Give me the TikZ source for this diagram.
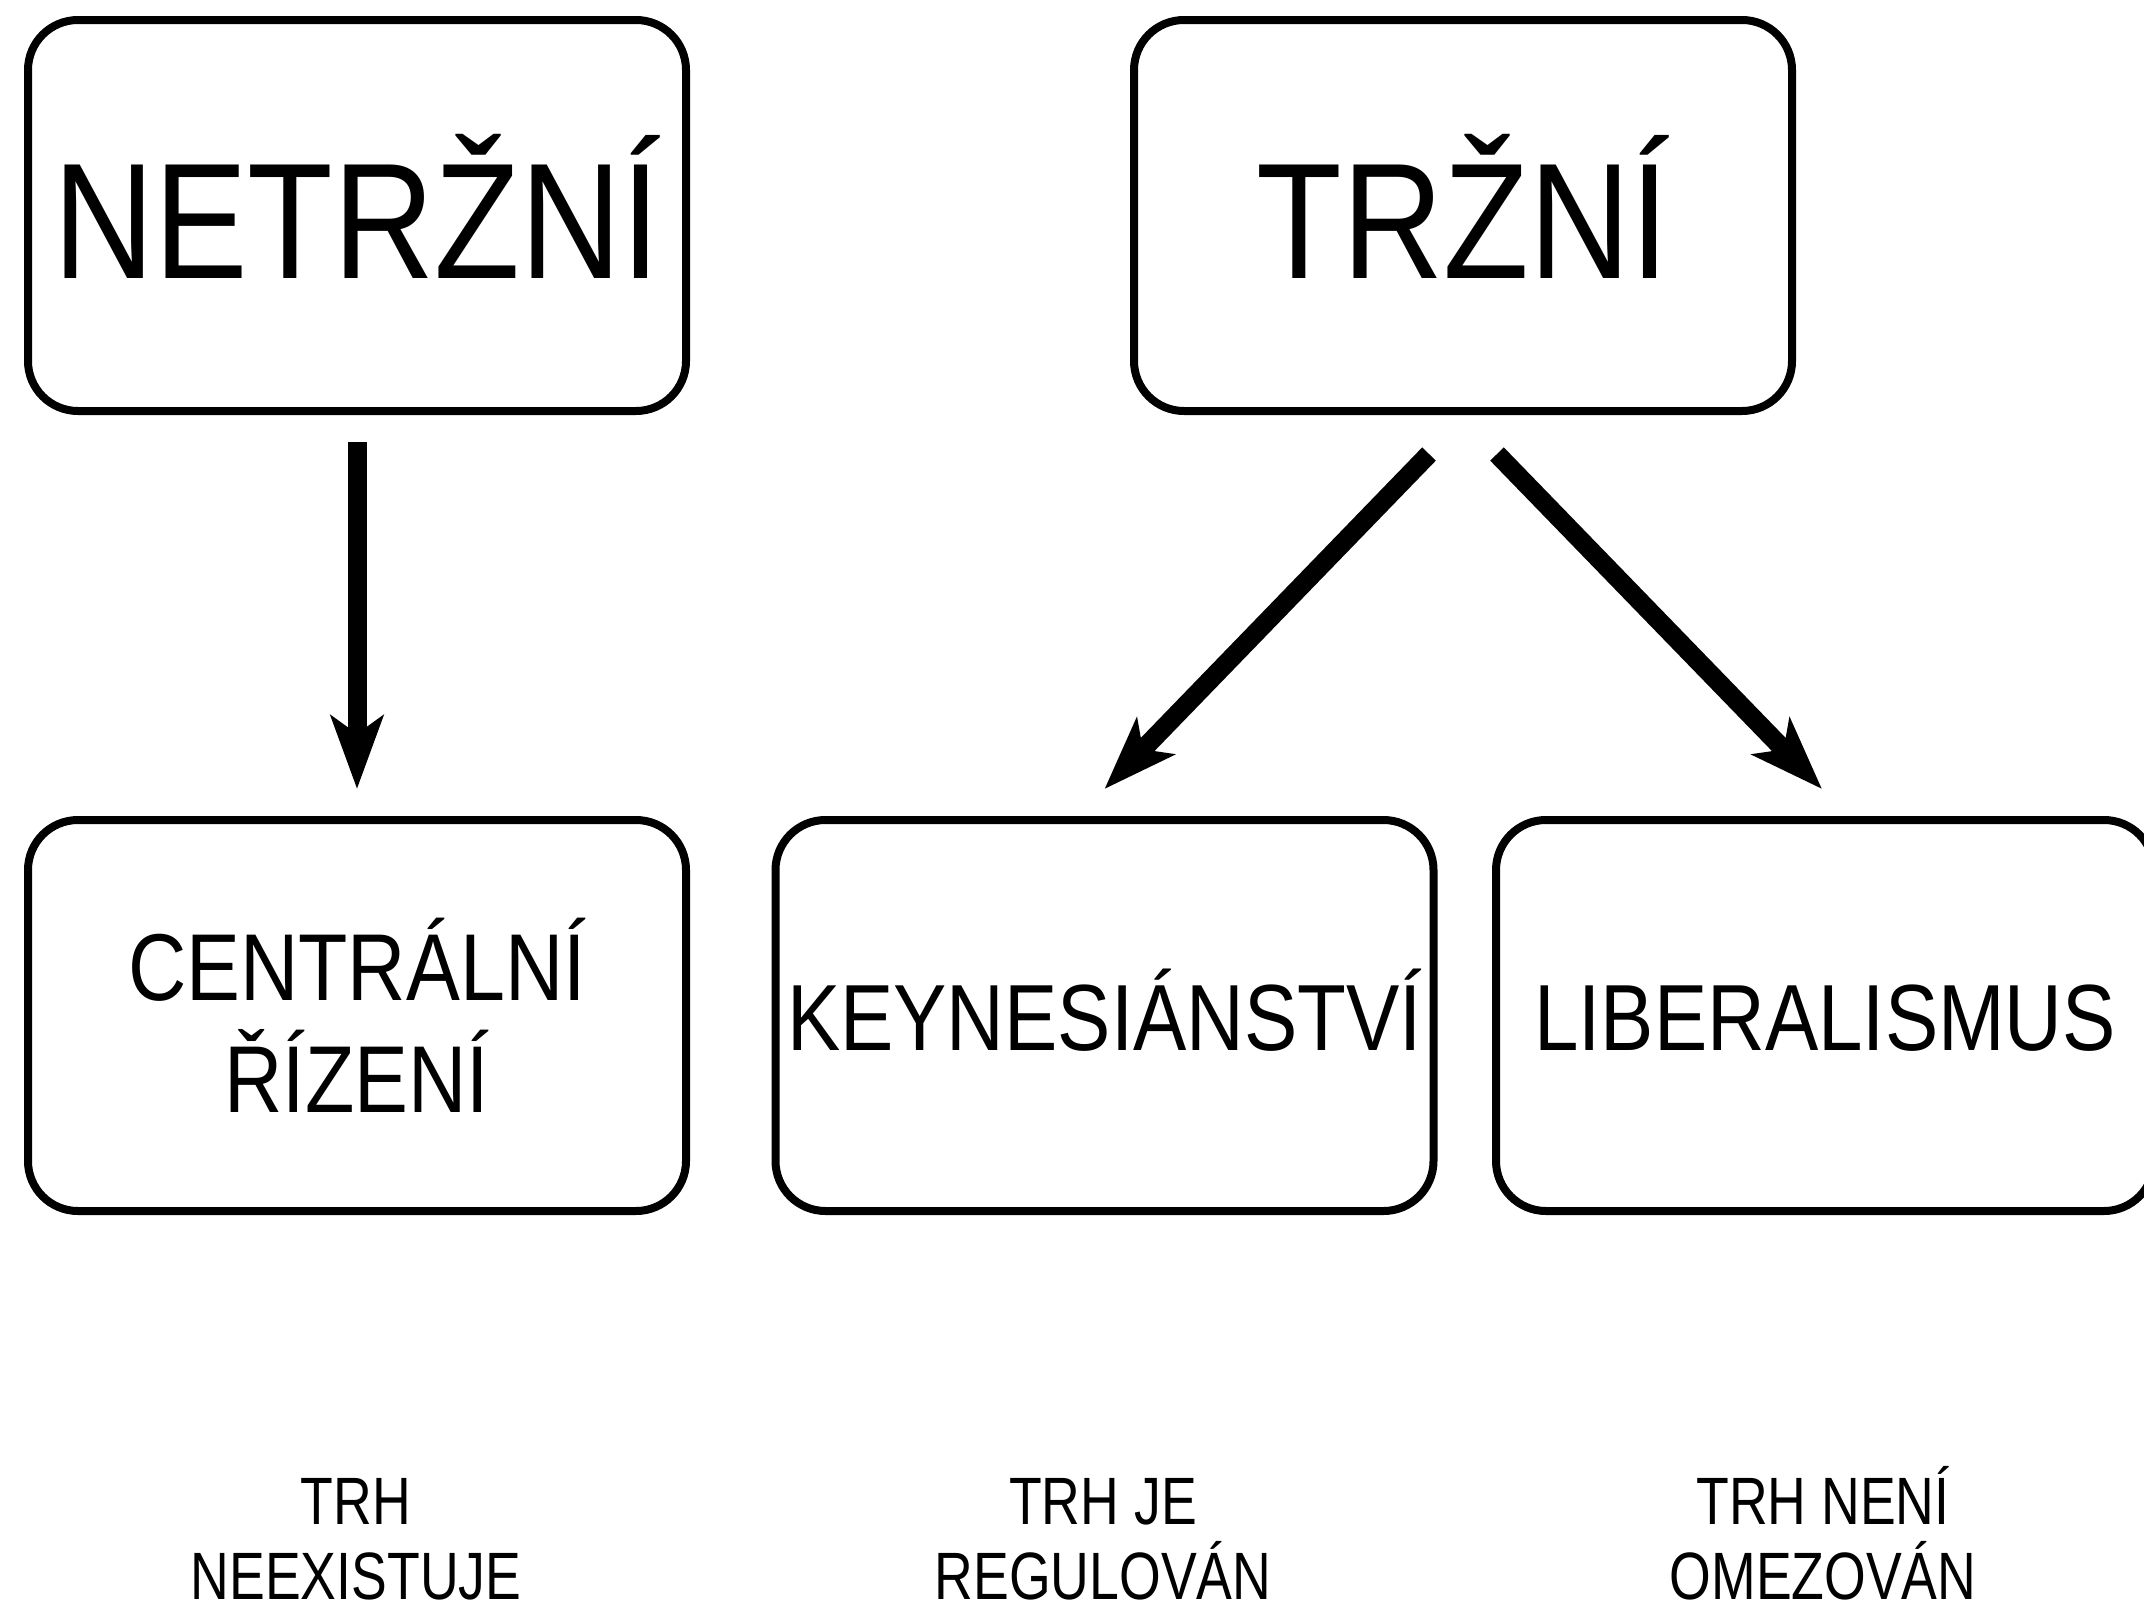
\documentclass[tikz,border=0pt]{standalone}
\usepackage{fontspec}
\setmainfont{Liberation Sans}[FakeStretch=0.85]
\newfontfamily\narrowfont{Liberation Sans}[FakeStretch=0.8]
\usetikzlibrary{arrows.meta}
\begin{document}
\begin{tikzpicture}[x=1pt,y=-1pt,
  box/.style={draw=black, line width=8pt, rounded corners=50pt, minimum width=658pt, minimum height=391pt, inner sep=0pt, align=center},
  big/.style={font=\fontsize{165}{198}\selectfont, text height=125pt, text depth=0pt},
  mid/.style={font=\fontsize{94}{112}\selectfont, text height=69pt, text depth=0pt},
  midtwo/.style={font=\fontsize{95}{112}\selectfont},
  bottomtxt/.style={font=\narrowfont\fontsize{67}{75}\selectfont, align=center, inner sep=0pt, anchor=base},
  arr/.style={line width=19pt, -{Stealth[length=73pt,width=52pt,inset=18pt]}}
]
\useasboundingbox (0,0) rectangle (2144,1609);
\node[box,big] (A) at (357,215.5) {NETRŽNÍ};
\node[box,big] (B) at (1463,215.5) {TRŽNÍ};
\node[box,midtwo] (C) at (357,1015.5) {CENTRÁLNÍ\\ŘÍZENÍ};
\node[box,mid] (D) at (1104.5,1015.5) {KEYNESIÁNSTVÍ};
\node[box,mid] (E) at (1825,1015.5) {LIBERALISMUS};

\draw[arr] ([yshift=-27pt]A.south) -- ([yshift=27pt]C.north);
\draw[arr] ([xshift=-34pt,yshift=-39pt]B.south) -- ([yshift=27pt]D.north);
\draw[arr] ([xshift=34pt,yshift=-39pt]B.south) -- ([xshift=-3pt,yshift=27pt]E.north);

\node[bottomtxt] (L1) at (356,1599) {TRH\\NEEXISTUJE};
\node[bottomtxt] (L2) at (1103,1599) {TRH JE\\REGULOVÁN};
\node[bottomtxt] (L3) at (1823,1599) {TRH NENÍ\\OMEZOVÁN};
\end{tikzpicture}
\end{document}
